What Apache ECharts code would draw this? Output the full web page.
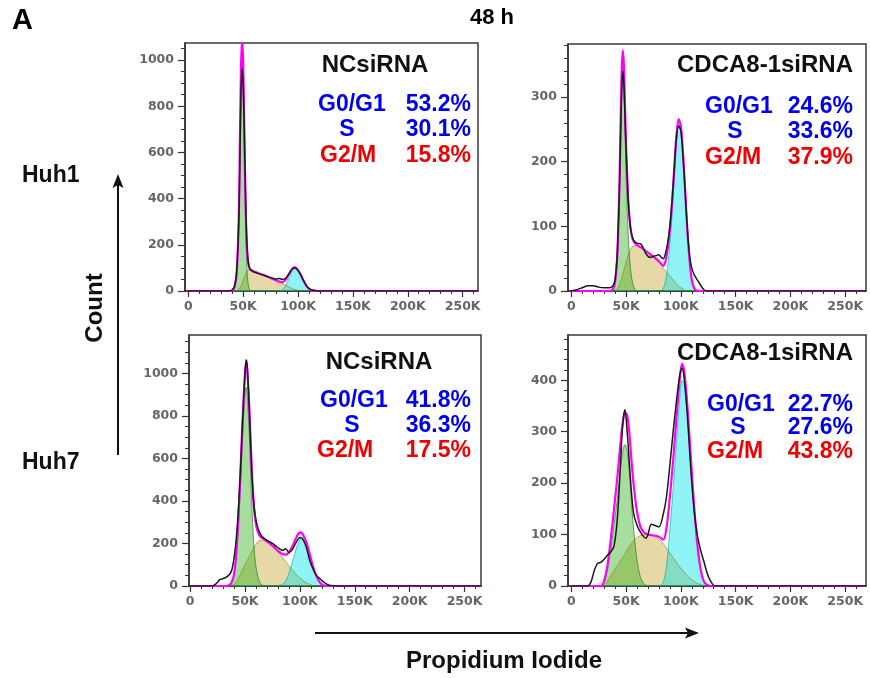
<!DOCTYPE html>
<html>
<head>
<meta charset="utf-8">
<title>Cell cycle 48 h</title>
<script src="https://cdn.jsdelivr.net/npm/echarts@6/dist/echarts.min.js"></script>
<style>
html, body { margin: 0; padding: 0; background: #fff; }
#main { width: 870px; height: 678px; }
</style>
</head>
<body>
<div id="main"></div>
<script type="text/javascript">
// PI channel in K, counts
var huh1NcX     = [0, 30, 38, 40, 42, 44, 46, 47, 48, 49, 50, 51, 52, 53, 54, 55, 56, 58, 60, 65, 70, 75, 80, 83, 86, 89, 92, 95, 97, 99, 102, 105, 108, 111, 114, 118, 125, 264];
var huh1NcTotal = [0, 0, 0, 5, 20, 80, 300, 560, 850, 965, 890, 700, 450, 260, 160, 115, 98, 88, 82, 74, 66, 58, 52, 54, 50, 56, 76, 96, 100, 94, 74, 45, 20, 8, 3, 0, 0, 0];
var huh1NcFit   = [0, 0, 0, 2, 15, 70, 320, 640, 960, 1090, 990, 720, 430, 235, 145, 110, 95, 88, 84, 75, 66, 56, 46, 41, 38, 50, 76, 98, 104, 97, 75, 45, 20, 6, 2, 0, 0, 0];
var huh1NcG1    = [0, 0, 0, 0, 10, 62, 310, 620, 930, 1050, 940, 660, 360, 150, 55, 18, 5, 0, 0, 0, 0, 0, 0, 0, 0, 0, 0, 0, 0, 0, 0, 0, 0, 0, 0, 0, 0, 0];
var huh1NcS     = [0, 0, 0, 0, 0, 2, 8, 14, 22, 32, 45, 58, 70, 82, 88, 90, 89, 87, 84, 75, 66, 56, 45, 38, 31, 24, 17, 10, 7, 4, 1, 0, 0, 0, 0, 0, 0, 0];
var huh1NcG2    = [0, 0, 0, 0, 0, 0, 0, 0, 0, 0, 0, 0, 0, 0, 0, 0, 0, 0, 0, 0, 0, 0, 0, 0, 6, 25, 58, 88, 97, 92, 72, 44, 19, 6, 2, 0, 0, 0];

var huh1KdX     = [0, 5, 10, 15, 20, 25, 30, 35, 38, 40, 42, 44, 45, 46, 47, 48, 49, 50, 52, 54, 56, 58, 60, 64, 68, 72, 76, 80, 82, 84, 86, 88, 90, 92, 94, 96, 98, 100, 102, 104, 106, 108, 110, 112, 114, 117, 120, 123, 130, 269];
var huh1KdTotal = [0, 2, 5, 8, 8, 6, 5, 5, 8, 18, 60, 160, 240, 310, 340, 320, 270, 220, 140, 98, 82, 76, 74, 72, 58, 52, 54, 56, 52, 50, 58, 75, 100, 140, 190, 238, 255, 248, 208, 152, 95, 55, 35, 26, 20, 12, 4, 0, 0, 0];
var huh1KdFit   = [0, 0, 0, 0, 0, 0, 0, 0, 3, 15, 55, 170, 260, 340, 372, 350, 290, 225, 140, 98, 80, 74, 71, 67, 62, 57, 52, 46, 42, 39, 46, 65, 95, 137, 190, 241, 266, 255, 213, 153, 92, 46, 17, 5, 1, 0, 0, 0, 0, 0];
var huh1KdG1    = [0, 0, 0, 0, 0, 0, 0, 0, 0, 10, 50, 160, 245, 315, 345, 320, 260, 180, 85, 35, 12, 3, 0, 0, 0, 0, 0, 0, 0, 0, 0, 0, 0, 0, 0, 0, 0, 0, 0, 0, 0, 0, 0, 0, 0, 0, 0, 0, 0, 0];
var huh1KdS     = [0, 0, 0, 0, 0, 0, 0, 0, 0, 0, 3, 10, 15, 20, 26, 32, 38, 45, 56, 64, 69, 70, 70, 67, 62, 56, 50, 44, 40, 35, 31, 27, 23, 19, 15, 11, 8, 5, 3, 1, 0, 0, 0, 0, 0, 0, 0, 0, 0, 0];
var huh1KdG2    = [0, 0, 0, 0, 0, 0, 0, 0, 0, 0, 0, 0, 0, 0, 0, 0, 0, 0, 0, 0, 0, 0, 0, 0, 0, 0, 0, 0, 0, 4, 15, 38, 72, 118, 175, 230, 258, 250, 210, 152, 92, 46, 17, 5, 1, 0, 0, 0, 0, 0];

var huh7NcX     = [0, 15, 20, 24, 27, 30, 33, 36, 38, 40, 42, 44, 46, 48, 50, 51, 52, 54, 56, 58, 60, 62, 64, 66, 70, 75, 80, 84, 87, 90, 93, 96, 99, 101, 103, 106, 109, 112, 115, 118, 121, 124, 128, 135, 265];
var huh7NcTotal = [0, 0, 0, 12, 30, 35, 42, 55, 75, 130, 220, 360, 560, 800, 1000, 1065, 1040, 820, 560, 390, 310, 270, 245, 230, 215, 200, 180, 168, 175, 158, 170, 200, 225, 228, 218, 180, 120, 80, 50, 35, 22, 10, 2, 0, 0];
var huh7NcFit   = [0, 0, 0, 0, 0, 0, 0, 5, 20, 55, 150, 320, 550, 800, 1000, 1045, 1020, 830, 570, 380, 290, 250, 232, 225, 210, 190, 165, 150, 148, 158, 185, 220, 248, 252, 240, 205, 150, 92, 48, 18, 5, 1, 0, 0, 0];
var huh7NcG1    = [0, 0, 0, 0, 0, 0, 0, 0, 15, 45, 130, 280, 490, 720, 900, 935, 900, 700, 410, 200, 90, 38, 12, 3, 0, 0, 0, 0, 0, 0, 0, 0, 0, 0, 0, 0, 0, 0, 0, 0, 0, 0, 0, 0, 0];
var huh7NcS     = [0, 0, 0, 0, 0, 0, 0, 0, 0, 8, 20, 38, 58, 80, 100, 110, 120, 140, 160, 180, 195, 210, 215, 215, 205, 185, 160, 135, 115, 95, 76, 58, 42, 33, 25, 15, 7, 2, 0, 0, 0, 0, 0, 0, 0];
var huh7NcG2    = [0, 0, 0, 0, 0, 0, 0, 0, 0, 0, 0, 0, 0, 0, 0, 0, 0, 0, 0, 0, 0, 0, 0, 0, 0, 0, 0, 8, 22, 60, 110, 165, 208, 222, 215, 190, 140, 88, 46, 18, 5, 1, 0, 0, 0];

var huh7KdX     = [0, 15, 18, 21, 24, 27, 30, 33, 36, 39, 42, 45, 47, 49, 51, 53, 55, 57, 60, 63, 66, 68, 70, 73, 76, 80, 84, 87, 90, 93, 96, 99, 101, 103, 106, 109, 112, 115, 118, 121, 124, 127, 131, 140, 269];
var huh7KdTotal = [0, 0, 8, 30, 44, 46, 52, 60, 66, 78, 130, 240, 315, 343, 300, 240, 180, 140, 118, 105, 96, 93, 100, 120, 118, 115, 140, 175, 235, 300, 360, 410, 424, 405, 330, 230, 150, 100, 70, 48, 25, 10, 0, 0, 0];
var huh7KdFit   = [0, 0, 0, 0, 0, 0, 10, 40, 90, 150, 210, 280, 318, 337, 332, 297, 243, 196, 144, 116, 105, 102, 100, 99, 98, 96, 90, 114, 174, 245, 326, 402, 432, 419, 350, 254, 159, 83, 33, 9, 2, 0, 0, 0, 0];
var huh7KdG1    = [0, 0, 0, 0, 0, 0, 8, 30, 70, 120, 170, 230, 262, 275, 262, 220, 160, 108, 50, 18, 5, 2, 0, 0, 0, 0, 0, 0, 0, 0, 0, 0, 0, 0, 0, 0, 0, 0, 0, 0, 0, 0, 0, 0, 0];
var huh7KdS     = [0, 0, 0, 0, 0, 0, 2, 10, 20, 30, 40, 50, 56, 62, 70, 77, 83, 88, 94, 98, 100, 100, 100, 99, 97, 92, 82, 74, 64, 55, 46, 37, 32, 27, 20, 14, 9, 5, 3, 1, 0, 0, 0, 0, 0];
var huh7KdG2    = [0, 0, 0, 0, 0, 0, 0, 0, 0, 0, 0, 0, 0, 0, 0, 0, 0, 0, 0, 0, 0, 0, 0, 0, 0, 0, 8, 40, 110, 190, 280, 365, 400, 392, 330, 240, 150, 78, 30, 8, 2, 0, 0, 0, 0];

// tick labels
var xTicks = [0, 50, 100, 150, 200, 250];
var yTicksHigh = [0, 200, 400, 600, 800, 1000];
var yTicksKd1 = [0, 100, 200, 300];
var yTicksKd7 = [0, 100, 200, 300, 400];

var titles = ['NCsiRNA', 'CDCA8-1siRNA', 'NCsiRNA', 'CDCA8-1siRNA'];
var g1Pct = ['53.2%', '24.6%', '41.8%', '22.7%'];
var sPct  = ['30.1%', '33.6%', '36.3%', '27.6%'];
var g2Pct = ['15.8%', '37.9%', '17.5%', '43.8%'];

var panels = [
    { x: huh1NcX, total: huh1NcTotal, fit: huh1NcFit, g1: huh1NcG1, s: huh1NcS, g2: huh1NcG2,
      grid: { left: 185, top: 43, width: 293, height: 248 }, xr: [-3, 264], yMax: 1074, yTicks: yTicksHigh, yMinor: 50 },
    { x: huh1KdX, total: huh1KdTotal, fit: huh1KdFit, g1: huh1KdG1, s: huh1KdS, g2: huh1KdG2,
      grid: { left: 568, top: 44, width: 298, height: 247 }, xr: [-3, 269], yMax: 382, yTicks: yTicksKd1, yMinor: 20 },
    { x: huh7NcX, total: huh7NcTotal, fit: huh7NcFit, g1: huh7NcG1, s: huh7NcS, g2: huh7NcG2,
      grid: { left: 189, top: 335, width: 292, height: 251 }, xr: [-1, 265], yMax: 1181, yTicks: yTicksHigh, yMinor: 50 },
    { x: huh7KdX, total: huh7KdTotal, fit: huh7KdFit, g1: huh7KdG1, s: huh7KdS, g2: huh7KdG2,
      grid: { left: 568, top: 335, width: 298, height: 251 }, xr: [-3, 269], yMax: 488, yTicks: yTicksKd7, yMinor: 20 }
];

function pairs(xs, ys) {
    var out = [];
    for (var i = 0; i < xs.length; i++) out.push([xs[i], ys[i]]);
    return out;
}

function minorValues(step, max, majorStep) {
    var out = [];
    for (var v = step; v <= max; v += step) {
        if (v % majorStep !== 0) out.push(v);
    }
    return out;
}

var tickFont = { color: '#666', fontSize: 12.5, fontWeight: 'bold', fontFamily: 'DejaVu Sans' };
var grids = [], xAxes = [], yAxes = [], series = [];
var minorX = [], minorY = [];

panels.forEach(function (p, i) {
    grids.push({
        left: p.grid.left, top: p.grid.top, width: p.grid.width, height: p.grid.height,
        show: true, borderColor: '#3a3a3a', borderWidth: 1.5, containLabel: false
    });
    xAxes.push({
        type: 'value', gridIndex: i, min: p.xr[0], max: p.xr[1],
        splitLine: { show: false },
        axisLine: { show: true, onZero: false, lineStyle: { color: '#333', width: 1.5 } },
        axisTick: { show: true, length: 6, customValues: xTicks, lineStyle: { color: '#333', width: 1.2 } },
        axisLabel: Object.assign({ customValues: xTicks, margin: 9,
            formatter: function (v) { return v === 0 ? '0' : v + 'K'; } }, tickFont)
    });
    yAxes.push({
        type: 'value', gridIndex: i, min: 0, max: p.yMax,
        splitLine: { show: false },
        axisLine: { show: true, onZero: false, lineStyle: { color: '#333', width: 1.5 } },
        axisTick: { show: true, length: 7, customValues: p.yTicks, lineStyle: { color: '#333', width: 1.2 } },
        axisLabel: Object.assign({ customValues: p.yTicks, margin: 11,
            formatter: function (v) { return String(v); } }, tickFont)
    });
    minorX.push({
        type: 'value', gridIndex: i, min: p.xr[0], max: p.xr[1], position: 'bottom',
        splitLine: { show: false }, axisLine: { show: false, onZero: false },
        axisTick: { show: true, length: 3, customValues: minorValues(10, p.xr[1], 50), lineStyle: { color: '#333' } },
        axisLabel: { show: false }
    });
    minorY.push({
        type: 'value', gridIndex: i, min: 0, max: p.yMax, position: 'left',
        splitLine: { show: false }, axisLine: { show: false, onZero: false },
        axisTick: { show: true, length: 4, customValues: minorValues(p.yMinor, p.yMax, p.yMinor * (p.yMinor === 50 ? 4 : 5)), lineStyle: { color: '#333' } },
        axisLabel: { show: false }
    });

    function fill(data, color, edge) {
        return {
            type: 'line', xAxisIndex: i, yAxisIndex: i, data: data,
            smooth: 0.3, showSymbol: false, silent: true,
            lineStyle: { color: edge, width: 0.8 },
            areaStyle: { color: color }
        };
    }
    series.push(fill(pairs(p.x, p.s), 'rgba(195,165,45,0.6)', 'rgba(150,125,30,0.8)'));
    series.push(fill(pairs(p.x, p.g1), 'rgba(40,175,20,0.58)', 'rgba(20,120,10,0.8)'));
    series.push(fill(pairs(p.x, p.g2), 'rgba(0,228,232,0.62)', 'rgba(0,170,175,0.8)'));
    series.push({
        type: 'line', xAxisIndex: i, yAxisIndex: i, data: pairs(p.x, p.fit),
        smooth: 0.3, showSymbol: false, silent: true,
        lineStyle: { color: '#ff00ff', width: 2.2 }
    });
    series.push({
        type: 'line', xAxisIndex: i, yAxisIndex: i, data: pairs(p.x, p.total),
        smooth: 0.3, showSymbol: false, silent: true,
        lineStyle: { color: '#1a1a1a', width: 1.5 }
    });
});

var fontB = function (size) { return 'bold ' + size + 'px "Liberation Sans", Arial, sans-serif'; };
function txt(text, x, y, size, color, align) {
    return { type: 'text', silent: true,
        style: { text: text, x: x, y: y, font: fontB(size), fill: color, textAlign: align || 'left', textVerticalAlign: 'middle' } };
}

var blue = '#0000f0', red = '#f00000';
var statPos = [
    { tx: 375, ty: 65, ta: 'center', gx: 318, sx: 347, mx: 320, vx: 471, y: [105, 130, 156] },
    { tx: 853, ty: 65, ta: 'right', gx: 705, sx: 735, mx: 705, vx: 853, y: [107, 132, 158] },
    { tx: 379, ty: 362, ta: 'center', gx: 320, sx: 352, mx: 317, vx: 471, y: [401, 426, 451] },
    { tx: 853, ty: 353, ta: 'right', gx: 707, sx: 738, mx: 707, vx: 853, y: [405, 428, 452] }
];

var graphics = [
    txt('A', 12, 21, 29, '#000'),
    txt('48 h', 492, 18, 22, '#000', 'center'),
    txt('Huh1', 22, 176, 23, '#111'),
    txt('Huh7', 22, 463, 23, '#111'),
    { type: 'text', silent: true, x: 95, y: 308, rotation: Math.PI / 2,
      style: { text: 'Count', x: 0, y: 0, font: fontB(24), fill: '#111', textAlign: 'center', textVerticalAlign: 'middle' } },
    { type: 'line', silent: true, shape: { x1: 118, y1: 455, x2: 118, y2: 184 }, style: { stroke: '#111', lineWidth: 2 } },
    { type: 'polygon', silent: true, shape: { points: [[118, 174], [112.5, 188], [118, 185], [123.5, 188]] }, style: { fill: '#111' } },
    { type: 'line', silent: true, shape: { x1: 315, y1: 633, x2: 689, y2: 633 }, style: { stroke: '#111', lineWidth: 2 } },
    { type: 'polygon', silent: true, shape: { points: [[699, 633], [685, 627.5], [688, 633], [685, 638.5]] }, style: { fill: '#111' } },
    txt('Propidium Iodide', 504, 661, 24, '#111', 'center')
];

statPos.forEach(function (s, i) {
    graphics.push(txt(titles[i], s.tx, s.ty, 24, '#111', s.ta));
    graphics.push(txt('G0/G1', s.gx, s.y[0], 23, blue));
    graphics.push(txt('S', s.sx, s.y[1], 23, blue, 'center'));
    graphics.push(txt('G2/M', s.mx, s.y[2], 23, red));
    graphics.push(txt(g1Pct[i], s.vx, s.y[0], 23, blue, 'right'));
    graphics.push(txt(sPct[i], s.vx, s.y[1], 23, blue, 'right'));
    graphics.push(txt(g2Pct[i], s.vx, s.y[2], 23, red, 'right'));
});

var myChart = echarts.init(document.getElementById('main'));
var option = {
    animation: false,
    backgroundColor: '#fff',
    grid: grids,
    xAxis: xAxes.concat(minorX),
    yAxis: yAxes.concat(minorY),
    series: series,
    graphic: graphics
};
myChart.setOption(option);
</script>
</body>
</html>
